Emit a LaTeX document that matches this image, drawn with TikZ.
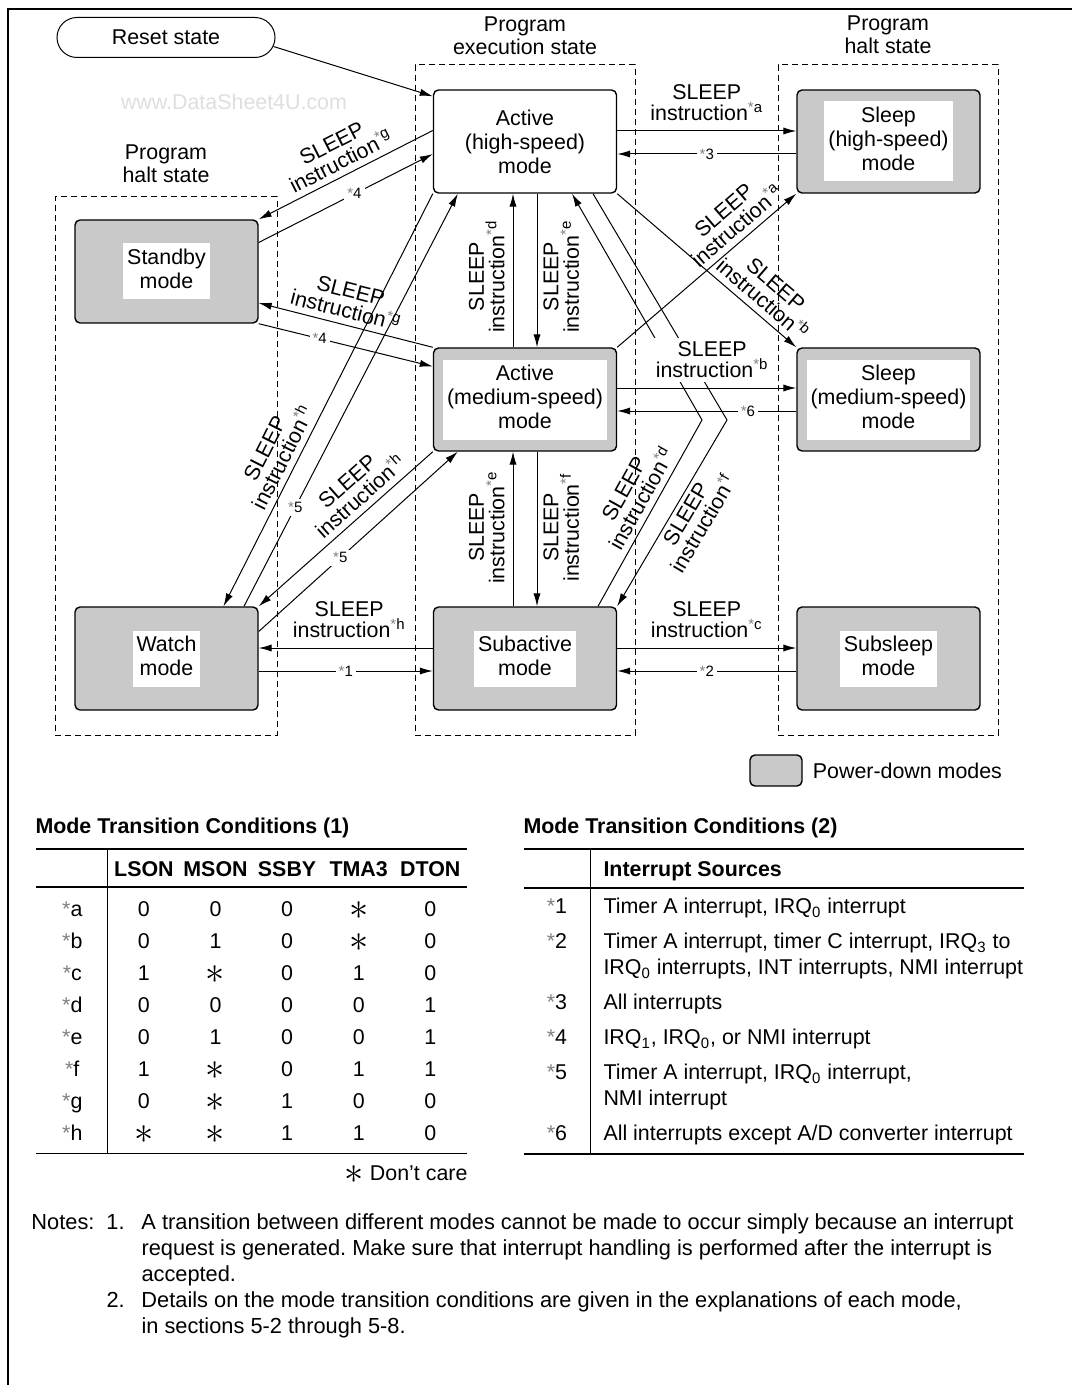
\documentclass[tikz,border=0pt]{standalone}
\usepackage{fontspec}
\setmainfont{Liberation Sans}
\usetikzlibrary{arrows.meta,positioning,calc,matrix}
\frenchspacing

\newcommand{\wbox}[1]{{\setlength{\fboxsep}{2pt}\colorbox{white}{\begin{tabular}{@{}c@{}}#1\end{tabular}}}}
\newcommand{\gstar}{\textcolor{black!50}{*}}
\newcommand{\sleeptxt}[1]{SLEEP\\instruction\textsuperscript{\gstar#1}}
\newcommand{\inttxt}[1]{\gstar#1}
\newcommand{\dc}{\raisebox{-1.6pt}{\scalebox{1.75}{$\ast$}}}
\newcommand{\twoln}[2]{\begin{tabular}[t]{@{}l@{}}#1\\#2\end{tabular}}

\begin{document}
\begin{tikzpicture}[x=0.5pt,y=-0.5pt,line width=0.5pt,
  font=\fontsize{10.7}{12}\selectfont,
  >={Latex[length=6.5pt,width=3.6pt]},
  modebox/.style={draw,line width=0.7pt,rounded corners=2.5pt,fill=black!21,
    minimum width=91.5pt,minimum height=51.5pt,inner sep=0pt,align=center},
  runbox/.style={modebox,fill=white},
  groupbox/.style={draw,dash pattern=on 3pt off 2pt,minimum width=110pt,inner sep=0pt},
  grouplbl/.style={align=center,font=\fontsize{10.7}{11.5}\selectfont},
  sleeplbl/.style={align=center,inner sep=2pt,font=\fontsize{10.7}{10.2}\selectfont},
  intlbl/.style={fill=white,inner sep=1.5pt,font=\fontsize{7.5}{9}\selectfont},
  rule/.style={line width=0.7pt}]
\useasboundingbox (0,0) rectangle (1072,1385);
\draw[line width=0.6pt] (1072,9) -- (8,9) -- (8,1385);

\node[text=black!13] (wmark) at (234,102) {www.DataSheet4U.com};

\node[groupbox,minimum width=111pt,minimum height=269pt] (lhalt) at (166,466) {};
\node[groupbox,minimum height=335pt] (exec) at (525,400) {};
\node[groupbox,minimum height=335pt] (rhalt) at (888,400) {};
\node[grouplbl,above=3.5pt of lhalt] (lhaltlbl) {Program\\halt state};
\node[grouplbl,above=1.5pt of exec] (execlbl) {Program\\execution state};
\node[grouplbl,above=2pt of rhalt] (rhaltlbl) {Program\\halt state};

\node[draw,rounded corners=10pt,minimum width=109pt,minimum height=20pt] (reset) at (166,37.5) {Reset state};

\node[runbox] (ah) at (525,141.5) {Active\\(high-speed)\\mode};
\node[modebox] (sh) at (888.5,141.5) {\wbox{Sleep\\(high-speed)\\mode}};
\node[modebox] (sb) at (166.5,271.5) {\wbox{Standby\\mode}};
\node[modebox] (am) at (525,399.5) {\wbox{Active\\(medium-speed)\\mode}};
\node[modebox] (sm) at (888.5,399.5) {\wbox{Sleep\\(medium-speed)\\mode}};
\node[modebox] (wa) at (166.5,658.5) {\wbox{Watch\\mode}};
\node[modebox] (sa) at (525,658.5) {\wbox{Subactive\\mode}};
\node[modebox] (ss) at (888.5,658.5) {\wbox{Subsleep\\mode}};

\path[->] ($(reset.east)+(-2,9)$) edge ($(ah.north west)+(0,7)$);

\coordinate (kd) at (702,420);
\coordinate (kf) at (727,420);
\draw[->] ($(sa.north)+(73,0)$) -- node[sleeplbl,sloped,above=1pt,pos=.54] {\sleeptxt{d}} (kd) -- ($(ah.south)+(47,0)$);
\draw[<-] (sa.north east) -- node[sleeplbl,sloped,below=0pt,pos=.53] {\sleeptxt{f}} (kf) -- ($(ah.south)+(68,0)$);

\path[->]
($(am.north)+(-12,0)$) edge node[sleeplbl,sloped,above=2pt,pos=.46] {\sleeptxt{d}} ($(ah.south)+(-12,0)$)
($(sa.north)+(-12,0)$) edge node[sleeplbl,sloped,above=2pt,pos=.51] {\sleeptxt{e}} ($(am.south)+(-12,0)$)
;
\path[<-]
($(am.north)+(12,0)$) edge node[sleeplbl,sloped,below=1pt,pos=.46] {\sleeptxt{e}} ($(ah.south)+(12,0)$)
($(sa.north)+(12,0)$) edge node[sleeplbl,sloped,below=1pt,pos=.51] {\sleeptxt{f}} ($(am.south)+(12,0)$)
;
\path[->]
(sb.north east) edge[<-] node[sleeplbl,sloped,above=1pt,pos=.51] {\sleeptxt{g}} ($(ah.west)+(0,-11)$)
($(sb.east)+(0,-29)$) edge node[intlbl,pos=.55] {\inttxt{4}} ($(ah.west)+(0,12.5)$)
($(sb.east)+(0,31.5)$) edge[<-] node[sleeplbl,sloped,above=1pt,pos=.48] {\sleeptxt{g}} (am.north west)
(sb.south east) edge node[intlbl,pos=.35] {\inttxt{4}} ($(am.west)+(0,-33)$)
($(wa.north)+(57,0)$) edge[<-] node[sleeplbl,sloped,above=1pt,pos=.345] {\sleeptxt{h}} (ah.south west)
($(wa.north)+(77.5,0)$) edge node[intlbl,pos=.24] {\inttxt{5}} ($(ah.south west)+(25,0)$)
(wa.north east) edge[<-] node[sleeplbl,sloped,above=1pt,pos=.64] {\sleeptxt{h}} (am.south west)
($(wa.east)+(0,-27)$) edge node[intlbl,pos=.41] {\inttxt{5}} ($(am.south west)+(25,0)$)
(am.north east) edge node[sleeplbl,sloped,above=1pt,pos=.72] {\sleeptxt{a}} (sh.south west)
(ah.south east) edge node[sleeplbl,sloped,above=1pt,pos=.76] {\sleeptxt{b}} (sm.north west)
;
\path[->]
($(ah.east)+(0,-10.5)$) edge node[sleeplbl,above=3pt] {\sleeptxt{a}} ($(sh.west)+(0,-10.5)$)
($(sh.west)+(0,12.5)$) edge node[intlbl] {\inttxt{3}} ($(ah.east)+(0,12.5)$)
($(am.east)+(0,-11.5)$) edge node[sleeplbl,above=3pt,fill=white,pos=.53] {\sleeptxt{b}} ($(sm.west)+(0,-11.5)$)
($(sm.west)+(0,11.5)$) edge node[intlbl,pos=.27] {\inttxt{6}} ($(am.east)+(0,11.5)$)
($(sa.east)+(0,-10.5)$) edge node[sleeplbl,above=3pt] {\sleeptxt{c}} ($(ss.west)+(0,-10.5)$)
($(ss.west)+(0,12.5)$) edge node[intlbl] {\inttxt{2}} ($(sa.east)+(0,12.5)$)
($(sa.west)+(0,-10.5)$) edge node[sleeplbl,above=3pt,pos=.48] {\sleeptxt{h}} ($(wa.east)+(0,-10.5)$)
($(wa.east)+(0,12.5)$) edge node[intlbl] {\inttxt{1}} ($(sa.west)+(0,12.5)$)
;

\node[modebox,minimum width=26pt,minimum height=15.5pt] (legbox) at (776,770.5) {};
\node[right=1.5pt of legbox] (legtext) {Power-down modes};

\node[anchor=base west,inner sep=0pt,font=\fontsize{10.7}{12}\selectfont\bfseries] (tonetitle) at (35,833) {Mode Transition Conditions (1)};
\node[anchor=base west,inner sep=0pt,font=\fontsize{10.7}{12}\selectfont\bfseries] (ttwotitle) at (523,833) {Mode Transition Conditions (2)};

\matrix (tone) [matrix of nodes,matrix anchor=north west,inner sep=0pt,
  row sep=6pt,column sep=0pt,nodes in empty cells,
  nodes={anchor=base,inner sep=0pt,minimum width=35.8pt,text height=7.5pt,text depth=2.5pt},
  column 1/.style={nodes={xshift=-2pt}},
  row 1/.style={nodes={font=\fontsize{10.7}{12}\selectfont\bfseries}}] at (36,861)
{
 & LSON & MSON & SSBY & TMA3 & DTON \\[4pt]
\gstar a & 0 & 0 & 0 & \dc & 0 \\
\gstar b & 0 & 1 & 0 & \dc & 0 \\
\gstar c & 1 & \dc & 0 & 1 & 0 \\
\gstar d & 0 & 0 & 0 & 0 & 1 \\
\gstar e & 0 & 1 & 0 & 0 & 1 \\
\gstar f & 1 & \dc & 0 & 1 & 1 \\
\gstar g & 0 & \dc & 1 & 0 & 0 \\
\gstar h & \dc & \dc & 1 & 1 & 0 \\
};
\draw[rule] ($(tone.north west)+(0,-12)$) -- ($(tone.north east)+(0,-12)$);
\draw[rule] ($(tone.north west)+(0,26)$) -- ($(tone.north east)+(0,26)$);
\draw[rule] ($(tone.south west)+(0,7.6)$) -- ($(tone.south east)+(0,7.6)$);
\draw ($(tone.north west)+(71.6,-12)$) -- ($(tone.south west)+(71.6,7.6)$);
\node[anchor=base east,inner sep=0pt] (dontcare) at (468,1180) {\dc\ Don't care};

\matrix (ttwo) [matrix of nodes,matrix anchor=north west,inner sep=0pt,
  row sep=7.5pt,column sep=7pt,nodes in empty cells,
  nodes={inner sep=0pt,text height=7.5pt,text depth=2.5pt,font=\fontsize{10.7}{13}\selectfont},
  column 1/.style={nodes={anchor=base,minimum width=32.5pt}},
  column 2/.style={nodes={anchor=base west}},
  row 1/.style={nodes={font=\fontsize{10.7}{13}\selectfont\bfseries}}] at (524,861)
{
 & Interrupt Sources \\[1.2pt]
\gstar 1 & Timer A interrupt, IRQ\textsubscript{0} interrupt \\
\gstar 2 & \twoln{Timer A interrupt, timer C interrupt, IRQ\textsubscript{3} to}{IRQ\textsubscript{0} interrupts, INT interrupts, NMI interrupt} \\[13pt]
\gstar 3 & All interrupts \\
\gstar 4 & IRQ\textsubscript{1}, IRQ\textsubscript{0}, or NMI interrupt \\
\gstar 5 & \twoln{Timer A interrupt, IRQ\textsubscript{0} interrupt,}{NMI interrupt} \\[13pt]
\gstar 6 & All interrupts except A/D converter interrupt \\
};
\draw[rule] ($(ttwo.north west)+(0,-12)$) -- ++(500,0);
\draw[rule] ($(ttwo-1-1.south west)+(0,6)$) -- ++(500,0);
\draw[rule] ($(ttwo.south west)+(0,7.6)$) -- ++(500,0);
\draw ($(ttwo-1-1.north east)+(0,-12)$) -- ($(ttwo-1-1.east |- ttwo.south)+(0,7.6)$);

\node[anchor=base west,inner sep=0pt,font=\fontsize{10.9}{13}\selectfont] (notes) at (31,1229) {%
\begin{tabular}[t]{@{}p{37.5pt}@{}p{17.5pt}@{}l@{}}
Notes: & 1. & A transition between different modes cannot be made to occur simply because an interrupt\\
 & & request is generated. Make sure that interrupt handling is performed after the interrupt is\\
 & & accepted.\\
 & 2. & Details on the mode transition conditions are given in the explanations of each mode,\\
 & & in sections 5-2 through 5-8.
\end{tabular}};
\end{tikzpicture}
\end{document}
